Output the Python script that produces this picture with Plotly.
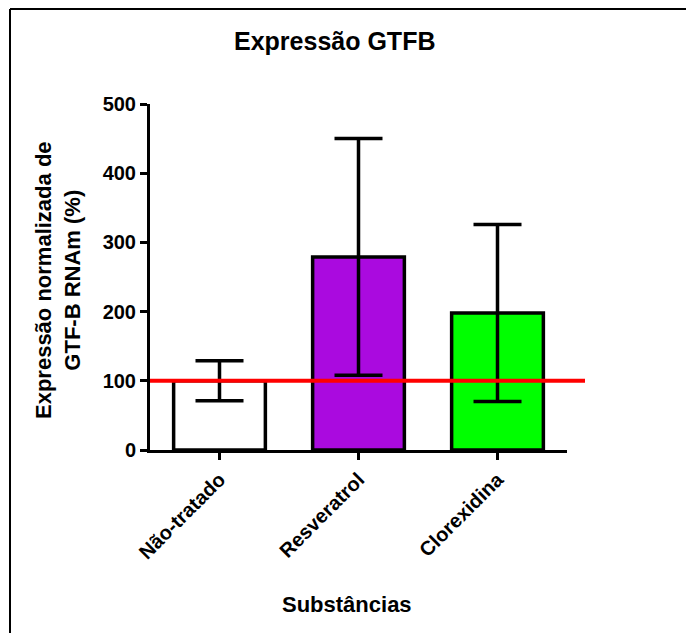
import plotly.graph_objects as go

categories = ["Não-tratado", "Resveratrol", "Clorexidina"]
means = [100, 279, 198]
sd = [29, 171, 128]
colors = ["#FFFFFF", "#AA0ADF", "#00FF00"]
yticks = [0, 100, 200, 300, 400, 500]
ref_value = 100

FONT = "Liberation Sans, Arial, sans-serif"
L, R, T, B = 150, 119, 104, 183
W, H = 686, 633
pw, ph = W - L - R, H - T - B

def px(x):
    return (x - L) / pw

def py(y):
    return (H - B - y) / ph

fig = go.Figure()
fig.add_trace(go.Bar(
    x=categories, y=means,
    marker=dict(color=colors, line=dict(color="black", width=3.5)),
    width=0.66,
    error_y=dict(type="data", array=sd, visible=True, color="black",
                 thickness=3.5, width=24),
))

shapes = [
    dict(type="line", xref="paper", yref="y", x0=0, x1=px(585),
         y0=ref_value, y1=ref_value, line=dict(color="#FF0000", width=4),
         layer="above"),
    dict(type="line", xref="paper", yref="paper", x0=px(10), x1=px(700),
         y0=py(9), y1=py(9), line=dict(color="black", width=2)),
    dict(type="line", xref="paper", yref="paper", x0=px(10), x1=px(10),
         y0=py(9), y1=py(640), line=dict(color="black", width=2)),
]

annotations = [
    dict(text="Expressão GTFB", xref="paper", yref="paper", x=px(334), y=py(41),
         xanchor="center", yanchor="middle", showarrow=False,
         font=dict(family=FONT, size=25, color="black", weight="bold")),
    dict(text="Expressão normalizada de<br>GTF-B RNAm (%)", xref="paper", yref="paper",
         x=px(58), y=py(280), xanchor="center", yanchor="middle",
         textangle=-90, showarrow=False,
         font=dict(family=FONT, size=22, color="black", weight="bold")),
    dict(text="Substâncias", xref="paper", yref="paper", x=px(347), y=py(604),
         xanchor="center", yanchor="middle", showarrow=False,
         font=dict(family=FONT, size=22, color="black", weight="bold")),
]

fig.update_layout(
    width=W, height=H,
    margin=dict(l=L, r=R, t=T, b=B, autoexpand=False),
    paper_bgcolor="white", plot_bgcolor="white",
    showlegend=False,
    shapes=shapes, annotations=annotations,
    xaxis=dict(range=[-0.5, 2.5], showline=True, linecolor="black", linewidth=3,
               ticks="outside", ticklen=7, tickwidth=3, tickcolor="black",
               tickangle=-45, showgrid=False, zeroline=False,
               tickfont=dict(family=FONT, size=20, color="black", weight="bold")),
    yaxis=dict(range=[0, 500], tickvals=yticks, showline=True, linecolor="black",
               linewidth=3, ticks="outside", ticklen=7, tickwidth=3, tickcolor="black",
               showgrid=False, zeroline=False,
               tickfont=dict(family=FONT, size=20, color="black", weight="bold")),
)

fig.write_html("out.html")
